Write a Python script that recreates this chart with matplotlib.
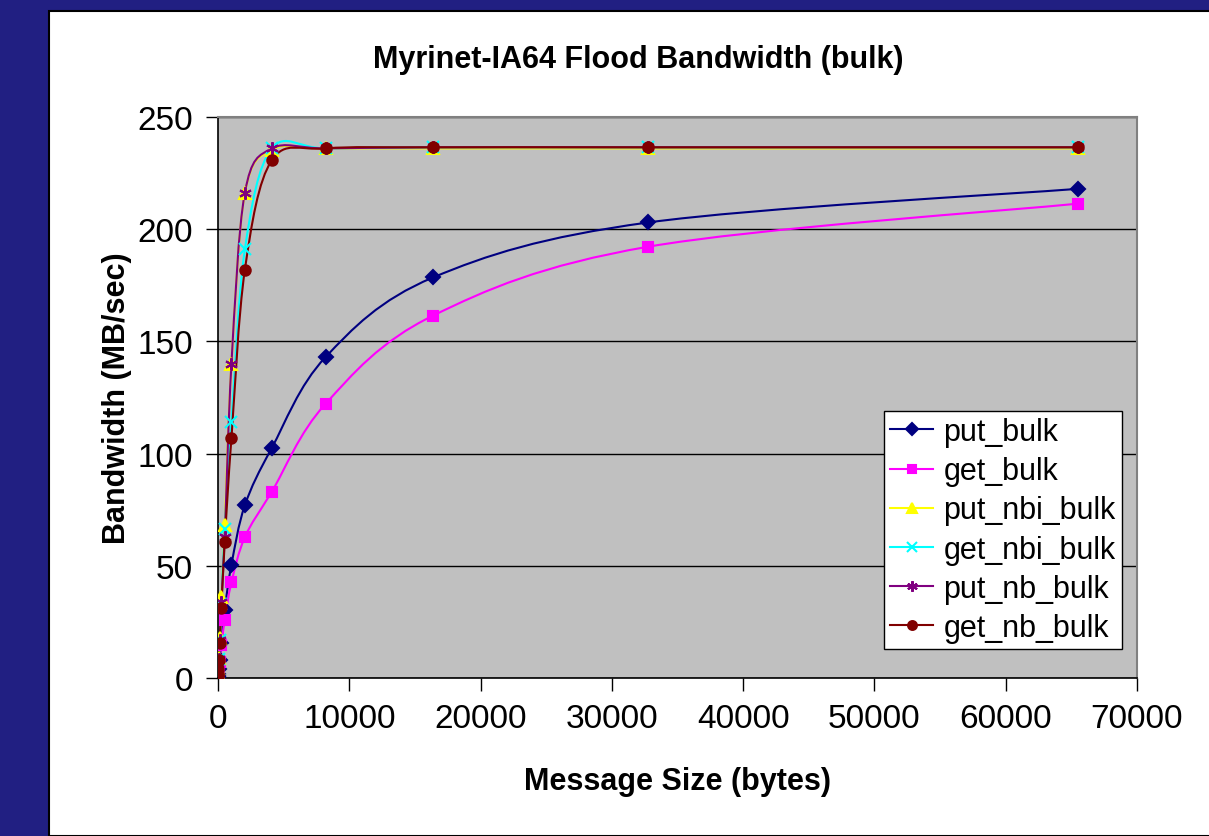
import matplotlib.pyplot as plt
from matplotlib.path import Path
from matplotlib.patches import PathPatch, Rectangle
from matplotlib.lines import Line2D

plt.rcParams['font.family'] = ['Liberation Sans', 'DejaVu Sans']

# message sizes (bytes)
sizes = [8, 16, 32, 64, 128, 256, 512, 1024, 2048, 4096, 8192, 16384, 32768, 65536]

# bandwidth (MB/sec)
put_bulk = [0.4, 0.9, 1.9, 3.8, 7.8, 15.5, 30.5, 50.5, 77, 102.5, 143, 178.5, 203, 218]
get_bulk = [0.3, 0.7, 1.5, 3.5, 7, 14.5, 26, 42.6, 62.8, 83, 122.2, 161.5, 192.2, 211.4]
put_nbi_bulk = [1.1, 2.2, 4.5, 9, 18, 36, 68, 140, 216, 235.5, 236, 236, 236, 236]
get_nbi_bulk = [1, 2, 4, 8.5, 17, 33, 66.5, 114.3, 191, 236, 236, 236.5, 236.5, 236.5]
put_nb_bulk = [1, 2.1, 4.3, 8.6, 17, 34, 63, 140, 216.3, 236, 236, 236.5, 236.5, 236.5]
get_nb_bulk = [1, 2, 4, 8, 15.8, 31, 60.6, 107, 182, 230.7, 236, 236.5, 236.5, 236.5]

series = [
    ('put_bulk', put_bulk, '#000080', 'D', 7),
    ('get_bulk', get_bulk, '#FF00FF', 's', 7),
    ('put_nbi_bulk', put_nbi_bulk, '#FFFF00', '^', 8),
    ('get_nbi_bulk', get_nbi_bulk, '#00FFFF', 'x', 8),
    ('put_nb_bulk', put_nb_bulk, '#800080', (6, 2, 0), 9),
    ('get_nb_bulk', get_nb_bulk, '#800000', 'o', 7.5),
]


def smooth_path(xs, ys):
    # Excel-style smoothed line: bezier segments with catmull-rom control points
    pts = list(zip(xs, ys))
    n = len(pts)
    verts = [pts[0]]
    codes = [Path.MOVETO]
    for i in range(n - 1):
        p0 = pts[i - 1] if i > 0 else pts[i]
        p1 = pts[i]
        p2 = pts[i + 1]
        p3 = pts[i + 2] if i + 2 < n else pts[i + 1]
        c1 = (p1[0] + (p2[0] - p0[0]) / 6, p1[1] + (p2[1] - p0[1]) / 6)
        c2 = (p2[0] - (p3[0] - p1[0]) / 6, p2[1] - (p3[1] - p1[1]) / 6)
        verts += [c1, c2, p2]
        codes += [Path.CURVE4] * 3
    return Path(verts, codes)


fig = plt.figure(figsize=(12.09, 8.37), dpi=100)
fig.patch.set_facecolor('#211F82')
fig.patches.append(Rectangle((49 / 1209, 0), 1, 1 - 12 / 837, transform=fig.transFigure,
                             facecolor='white', edgecolor='black', linewidth=1.5, zorder=-5))

ax = fig.add_axes([218 / 1209, 1 - 679 / 837, 919 / 1209, 561 / 837])
ax.set_zorder(2)
ax.set_facecolor('#C0C0C0')

handles = []
for name, vals, col, mk, ms in series:
    ax.add_patch(PathPatch(smooth_path(sizes, vals), fill=False, edgecolor=col, linewidth=1.5, zorder=2))
    ax.plot(sizes, vals, linestyle='none', marker=mk, markersize=ms, color=col,
            markeredgecolor=col, markeredgewidth=1.5, zorder=3)
    handles.append(Line2D([], [], color=col, linewidth=1.5, marker=mk, markersize=ms * 0.85,
                          markeredgecolor=col, markeredgewidth=1.5, label=name))

ax.set_xlim(0, 70000)
ax.set_ylim(0, 250)
ax.set_xticks(range(0, 70001, 10000))
ax.set_yticks(range(0, 251, 50))
ax.yaxis.grid(True, color='black', linewidth=1)
ax.set_axisbelow(True)
ax.tick_params(axis='both', direction='out', length=9, width=1, labelsize=24, pad=9)

for s in ['left', 'bottom']:
    ax.spines[s].set_color('black')
    ax.spines[s].set_linewidth(1.2)
for s in ['top', 'right']:
    ax.spines[s].set_color('#808080')
    ax.spines[s].set_linewidth(1.5)

fig.text(638 / 1209, 1 - 60 / 837, 'Myrinet-IA64 Flood Bandwidth (bulk)', fontsize=22,
         fontweight='bold', ha='center', va='center')
ax.set_xlabel('Message Size (bytes)', fontsize=22, fontweight='bold', labelpad=23)
ax.set_ylabel('Bandwidth (MB/sec)', fontsize=22, fontweight='bold', labelpad=4)

leg = ax.legend(handles=handles, loc='upper left', bbox_to_anchor=(666 / 919, (679 - 412) / 561),
                fontsize=22, frameon=True, fancybox=False, shadow=False, borderpad=0.2,
                labelspacing=0.3, handlelength=1.4, handletextpad=0.35, borderaxespad=0)
leg.get_frame().set_edgecolor('black')
leg.get_frame().set_linewidth(1)
leg.get_frame().set_facecolor('white')
leg.get_frame().set_alpha(1)

fig.savefig('out.png', dpi=100, facecolor=fig.get_facecolor())
